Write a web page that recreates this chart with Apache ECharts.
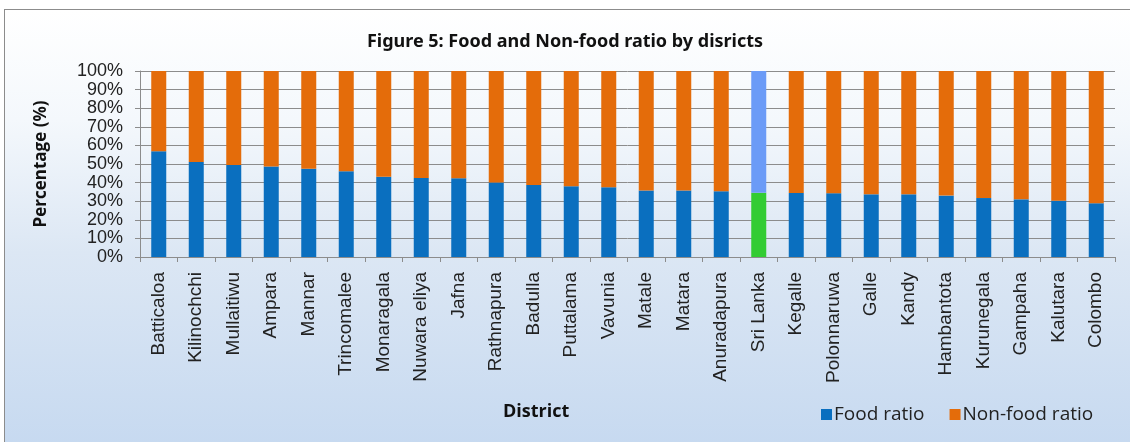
<!DOCTYPE html>
<html>
<head>
<meta charset="utf-8">
<script src="https://cdn.jsdelivr.net/npm/echarts@6/dist/echarts.min.js"></script>
<style>
html,body{margin:0;padding:0;background:#fff;width:1130px;height:442px;overflow:hidden;}
#frame{position:absolute;left:4px;top:9px;width:1140px;height:440px;border:1px solid #8c8c8c;
background:linear-gradient(to bottom,#ffffff 0%,#f4f8fc 25%,#dce7f4 55%,#c6d9f0 100%);}
#chart{position:absolute;left:0;top:0;width:1130px;height:442px;}
</style>
</head>
<body>
<div id="frame"></div>
<div id="chart"></div>
<script>
const titleText = 'Figure 5: Food and Non-food ratio by disricts';
const categories = ['Batticaloa','Kilinochchi','Mullaitiwu','Ampara','Mannar','Trincomalee','Monaragala','Nuwara eliya','Jafna','Rathnapura','Badulla','Puttalama','Vavunia','Matale','Matara','Anuradapura','Sri Lanka','Kegalle','Polonnaruwa','Galle','Kandy','Hambantota','Kurunegala','Gampaha','Kalutara','Colombo'];
const foodRatio =    [56.8,51.1,49.5,48.7,47.5,46.1,43.2,42.5,42.3,40.1,38.7,38.0,37.5,35.8,35.8,35.3,34.6,34.4,34.3,33.7,33.7,33.0,31.7,31.0,30.3,28.9];
const nonFoodRatio = [43.2,48.9,50.5,51.3,52.5,53.9,56.8,57.5,57.7,59.9,61.3,62.0,62.5,64.2,64.2,64.7,65.4,65.6,65.7,66.3,66.3,67.0,68.3,69.0,69.7,71.1];
const yTicks = [0,10,20,30,40,50,60,70,80,90,100];
const highlightCategory = 'Sri Lanka';
const xAxisTitle = 'District';

const FOOD = '#0a6fbf', NONFOOD = '#e46c0a', HL_FOOD = '#33cc33', HL_NONFOOD = '#6b9bf7';

function mk(vals, base, hl){
  return vals.map((v,i)=> categories[i]===highlightCategory ? {value:v, itemStyle:{color:hl}} : {value:v, itemStyle:{color:base}});
}

const chart = echarts.init(document.getElementById('chart'), null, {renderer:'canvas'});
chart.setOption({
  backgroundColor:'transparent',
  animation:false,
  title:{text:titleText,left:'center',top:28,textStyle:{fontFamily:'Noto Sans',fontSize:18,fontWeight:'bold',color:'#111'}},
  grid:{left:140,right:15,top:71,bottom:185},
  graphic:[{type:'text',left:503,top:403,style:{text:xAxisTitle,font:'bold 18px "Open Sans"',fill:'#111'}}],
  legend:{
    data:[{name:'Food ratio',itemStyle:{color:FOOD}},{name:'Non-food ratio',itemStyle:{color:NONFOOD}}],
    left:816,top:400,itemWidth:11,itemHeight:11,itemGap:25,icon:'rect',
    textStyle:{fontFamily:'Open Sans',fontSize:19,color:'#222',padding:[0,0,0,-3]}
  },
  xAxis:{
    type:'category',data:categories,
    axisLine:{lineStyle:{color:'#8c8c8c'}},
    axisTick:{show:true,interval:0,length:5,lineStyle:{color:'#8c8c8c'}},
    axisLabel:{interval:0,rotate:90,margin:15,fontFamily:'Liberation Sans',fontSize:19,color:'#222'}
  },
  yAxis:{
    type:'value',min:yTicks[0],max:yTicks[yTicks.length-1],interval:yTicks[1]-yTicks[0],
    name:'Percentage (%)',nameLocation:'middle',nameGap:90,nameRotate:90,
    nameTextStyle:{fontFamily:'Open Sans',fontSize:17,fontWeight:'bold',color:'#111'},
    axisLine:{show:true,lineStyle:{color:'#8c8c8c'}},
    axisTick:{show:true,length:5,lineStyle:{color:'#8c8c8c'}},
    axisLabel:{formatter:'{value}%',margin:17,fontFamily:'Liberation Sans',fontSize:18,color:'#222'},
    splitLine:{lineStyle:{color:'#8c8c8c',width:1}}
  },
  series:[
    {name:'Food ratio',type:'bar',stack:'t',barWidth:15,data:mk(foodRatio,FOOD,HL_FOOD)},
    {name:'Non-food ratio',type:'bar',stack:'t',barWidth:15,data:mk(nonFoodRatio,NONFOOD,HL_NONFOOD)}
  ]
});
</script>
</body>
</html>
